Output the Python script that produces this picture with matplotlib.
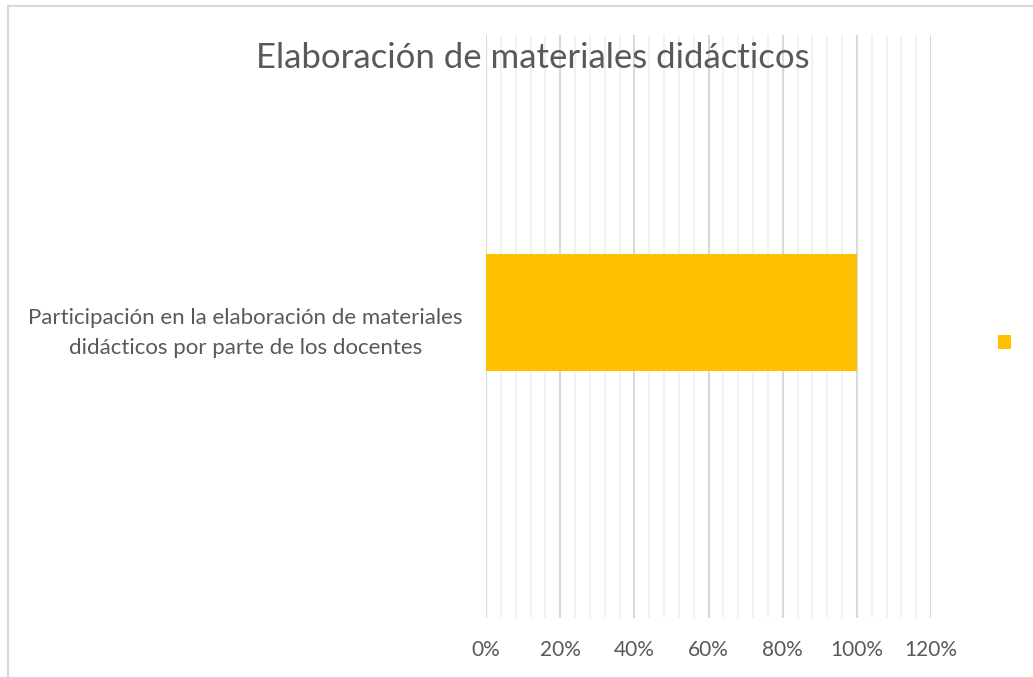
import matplotlib.pyplot as plt
from matplotlib.patches import Rectangle
from matplotlib.ticker import MultipleLocator, PercentFormatter

categories = ['Participación en la elaboración de materiales\ndidácticos por parte de los docentes']
values = [1.0]
xticks = [0, 0.2, 0.4, 0.6, 0.8, 1.0, 1.2]

plt.rcParams['font.family'] = ['Lato', 'DejaVu Sans']
grey_text = '#595959'

fig = plt.figure(figsize=(10.33, 6.77), dpi=100)
W, H = 1033, 677
ax = fig.add_axes([486 / W, 1 - 618 / H, (931 - 486) / W, (618 - 35) / H])

# chart area border (cropped on right and bottom)
fig.patches.append(Rectangle((8 / W, -0.05), 1.1, 1 - 6 / H + 0.05,
                             transform=fig.transFigure, fill=False,
                             edgecolor='#D9D9D9', linewidth=1.5))

# the series bar sits a little above the category centre (as in the Excel original)
pos = range(len(categories))
bar_offset = 0.024
bars = ax.barh([p + bar_offset for p in pos], values, height=0.2, color='#FFC000', zorder=3)

ax.set_xlim(0, 1.2)
ax.set_ylim(-0.5, 0.5)
ax.set_xticks(xticks)
ax.xaxis.set_minor_locator(MultipleLocator(0.04))
ax.xaxis.set_major_formatter(PercentFormatter(1.0, decimals=0))
ax.grid(axis='x', which='major', color='#D9D9D9', linewidth=1.5, zorder=0)
ax.grid(axis='x', which='minor', color='#F2F2F2', linewidth=1.5, zorder=0)
ax.set_yticks(list(pos))
ax.set_yticklabels(categories, multialignment='center', linespacing=1.6)
ax.tick_params(axis='x', which='both', length=0, pad=16, labelsize=15, labelcolor=grey_text)
ax.tick_params(axis='y', length=0, pad=17, labelsize=16, labelcolor=grey_text)
for s in ax.spines.values():
    s.set_visible(False)

fig.text(533 / W, 1 - 58 / H, 'Elaboración de materiales didácticos',
         ha='center', va='center', fontsize=25, color=grey_text)

fig.legend(handles=[bars], labels=[''], loc='center left',
           bbox_to_anchor=(980 / W, 1 - 343 / H), frameon=False,
           handlelength=0.7, handleheight=0.7, handletextpad=0, fontsize=14)

fig.savefig('out.png')
